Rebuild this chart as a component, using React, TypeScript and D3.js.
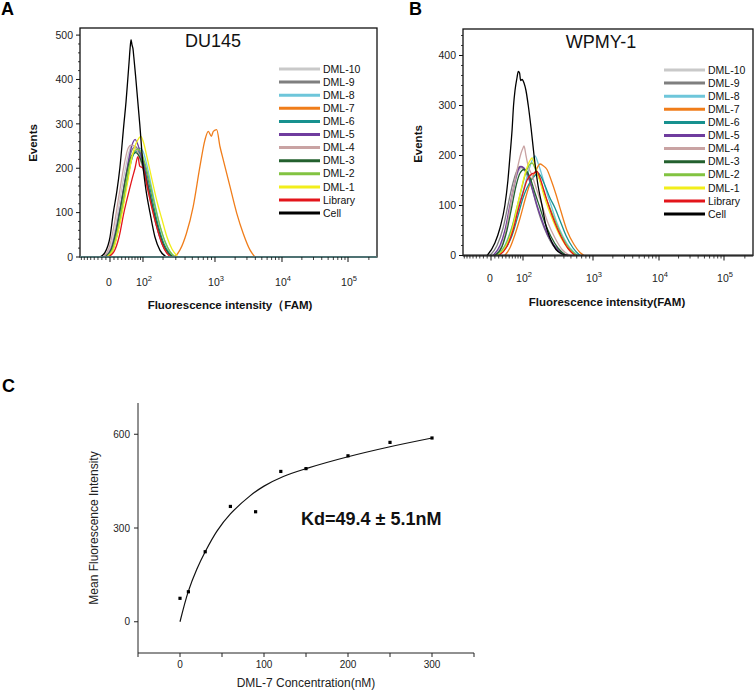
import React from "react";
import * as d3 from "d3";

type Pt = [number, number];

// ---------- legend / series ----------
const seriesNames = ["DML-10", "DML-9", "DML-8", "DML-7", "DML-6", "DML-5", "DML-4", "DML-3", "DML-2", "DML-1", "Library", "Cell"];
const seriesColors = ["#c9c9c9", "#7f7f7f", "#6ec6da", "#f07d1a", "#17918f", "#6f3c9e", "#c9a3a3", "#23602e", "#82c341", "#f2ee1b", "#e3151b", "#000000"];

// ---------- axis ticks (flow histograms) ----------
const xMajorTicks = [0, 100, 1000, 10000, 100000];
const xMajorExps = ["", "2", "3", "4", "5"];
const xMinorTicks = [-80, -70, -60, -50, -40, -30, -20, -10, 10, 20, 30, 40, 50, 60, 70, 80, 90,
  200, 300, 400, 500, 600, 700, 800, 900, 2000, 3000, 4000, 5000, 6000, 7000, 8000, 9000,
  20000, 30000, 40000, 50000, 60000, 70000, 80000, 90000, 200000];
const xBreaks = [-85, 0, 100, 1000, 10000, 100000, 262144];

// ---------- DU145 histograms: [FAM intensity, events] ----------
const du145Dml10: Pt[] = [[-15, 0], [0, 18], [12.5, 62], [25, 128], [39, 195], [51, 238], [60, 252], [70, 250], [80, 240], [95, 215], [116, 165], [138, 115], [164, 68], [193, 32], [227, 10], [266, 0]];
const du145Dml9: Pt[] = [[-12.5, 0], [2.5, 15], [15, 58], [28, 120], [42, 185], [54, 228], [63, 245], [73, 248], [84, 238], [100, 210], [120, 160], [143, 108], [170, 62], [200, 28], [235, 8], [275, 0]];
const du145Dml8: Pt[] = [[-10, 0], [5, 15], [17.6, 55], [31, 110], [45, 170], [57, 215], [66, 235], [77, 240], [87, 245], [100, 238], [112, 215], [129, 175], [153, 120], [181, 70], [213, 35], [250, 12], [302, 0]];
const du145Dml7: Pt[] = [[-12.5, 0], [275, 0], [342, 16], [417, 53], [513, 113], [632, 204], [737, 264], [815, 283], [895, 272], [950, 283], [1060, 287], [1187, 249], [1330, 219], [1674, 159], [2110, 99], [2640, 53], [3329, 16], [3953, 0]];
const du145Dml6: Pt[] = [[-10, 0], [5, 12], [17.6, 48], [31, 105], [45, 170], [57, 215], [66, 232], [77, 238], [87, 235], [104, 212], [125, 165], [148, 112], [175, 65], [206, 30], [242, 10], [283, 0]];
const du145Dml5: Pt[] = [[-12.5, 0], [2.5, 18], [15, 60], [28, 120], [42, 185], [54, 235], [63, 258], [70, 265], [77, 258], [87, 240], [104, 205], [125, 150], [148, 95], [175, 50], [206, 20], [250, 4], [283, 0]];
const du145Dml4: Pt[] = [[-17.6, 0], [-2.5, 20], [10, 70], [23, 140], [36, 205], [48, 245], [57, 252], [66, 250], [77, 240], [91, 215], [112, 170], [134, 120], [158, 75], [187, 40], [220, 15], [258, 0]];
const du145Dml3: Pt[] = [[-12.5, 0], [2.5, 15], [15, 55], [28, 115], [42, 180], [54, 220], [63, 232], [73, 235], [84, 228], [100, 205], [120, 160], [143, 110], [170, 65], [200, 30], [235, 10], [275, 0]];
const du145Dml2: Pt[] = [[-10, 0], [5, 15], [17.6, 55], [31, 115], [45, 180], [57, 222], [70, 240], [80, 243], [91, 238], [108, 210], [129, 165], [153, 115], [181, 70], [213, 35], [250, 12], [292, 0]];
const du145Dml1: Pt[] = [[-7.5, 0], [7.5, 15], [20, 55], [33.5, 110], [48, 175], [60, 225], [73, 255], [84, 268], [91, 272], [100, 262], [116, 225], [138, 175], [164, 125], [193, 85], [227, 45], [266, 18], [321, 0]];
const du145Library: Pt[] = [[-5, 0], [10, 12], [23, 45], [36, 100], [48, 140], [60, 175], [70, 200], [80, 226], [87, 205], [100, 200], [116, 160], [138, 110], [164, 65], [193, 30], [227, 8], [258, 0]];
const du145Cell: Pt[] = [[-25, 0], [-12.5, 10], [0, 45], [8.3, 100], [17.6, 150], [25, 200], [36, 300], [42, 350], [47, 400], [51, 440], [54, 470], [57, 490], [60, 478], [63, 470], [66, 450], [73, 400], [87, 300], [101, 200], [112, 150], [129, 100], [153, 45], [181, 15], [225, 0]];

// ---------- WPMY-1 histograms ----------
const wpmyDml10: Pt[] = [[7.7, 0], [26, 20], [40, 55], [56, 105], [69, 145], [84, 170], [96, 175], [108, 170], [125, 155], [145, 130], [172, 95], [203, 65], [248, 35], [311, 14], [401, 0]];
const wpmyDml9: Pt[] = [[-2.6, 0], [15.6, 20], [32, 55], [46, 100], [62, 145], [76, 170], [88, 178], [100, 175], [116, 162], [135, 140], [160, 105], [190, 72], [232, 42], [282, 20], [353, 5], [427, 0]];
const wpmyDml8: Pt[] = [[15.6, 0], [37, 20], [52, 45], [69, 75], [88, 110], [104, 135], [121, 165], [140, 190], [155, 199], [172, 185], [197, 160], [232, 125], [273, 95], [321, 65], [389, 38], [485, 15], [625, 0]];
const wpmyDml7: Pt[] = [[37, 0], [52, 15], [69, 42], [88, 75], [112, 118], [135, 150], [160, 170], [184, 183], [203, 180], [232, 172], [264, 152], [311, 122], [365, 88], [441, 50], [551, 22], [665, 6], [754, 0]];
const wpmyDml6: Pt[] = [[18, 0], [40, 15], [59, 40], [80, 80], [100, 115], [116, 135], [135, 150], [155, 160], [172, 165], [190, 158], [217, 140], [256, 115], [301, 95], [353, 70], [427, 40], [534, 15], [665, 0]];
const wpmyDml5: Pt[] = [[5.2, 0], [23.5, 20], [37, 50], [52, 100], [66, 140], [80, 170], [92, 178], [104, 175], [121, 160], [140, 135], [166, 100], [197, 70], [240, 40], [301, 18], [389, 4], [456, 0]];
const wpmyDml4: Pt[] = [[10, 0], [29, 18], [46, 70], [59, 120], [69, 150], [80, 180], [92, 205], [100, 215], [104, 219], [112, 200], [121, 180], [140, 160], [166, 130], [197, 100], [240, 65], [301, 35], [377, 12], [485, 0]];
const wpmyDml3: Pt[] = [[10, 0], [29, 18], [43, 50], [59, 100], [73, 140], [88, 165], [104, 172], [116, 168], [135, 150], [155, 125], [184, 95], [217, 65], [264, 38], [331, 15], [427, 0]];
const wpmyDml2: Pt[] = [[15.6, 0], [37, 18], [56, 50], [73, 90], [92, 130], [108, 160], [125, 180], [140, 185], [160, 170], [184, 150], [217, 120], [256, 95], [311, 65], [377, 38], [470, 15], [605, 0]];
const wpmyDml1: Pt[] = [[18, 0], [40, 18], [59, 50], [76, 95], [96, 140], [112, 170], [130, 190], [140, 195], [155, 180], [178, 155], [210, 120], [248, 90], [301, 60], [365, 35], [456, 14], [568, 0]];
const wpmyLibrary: Pt[] = [[21, 0], [43, 18], [62, 50], [80, 90], [100, 125], [116, 150], [135, 162], [150, 165], [166, 168], [184, 155], [210, 130], [248, 98], [301, 65], [365, 38], [456, 14], [568, 0]];
const wpmyCell: Pt[] = [[-10, 0], [10, 25], [23.5, 55], [37, 100], [46, 150], [52.5, 200], [59, 250], [64, 300], [69, 330], [76, 355], [81, 368], [86, 365], [90, 350], [96, 352], [104, 345], [112, 330], [122, 300], [135, 255], [150, 200], [172, 140], [197, 100], [224, 60], [256, 35], [311, 12], [377, 3], [456, 0]];

// ---------- panel C: binding ----------
const concentrations = [0, 10, 30, 60, 90, 120, 150, 200, 250, 300];
const meanFluorescence = [75, 96, 224, 369, 352, 481, 490, 531, 574, 588];
const fitConcentrations = [0, 10, 20, 30, 44, 60, 83, 100, 123, 150, 200, 250, 300];
const fitFluorescence = [0, 98, 168, 224, 290, 345, 402, 434, 465, 490, 528, 560, 588];
const cXTicks = [0, 100, 200, 300];
const cXMinor = [-50, 50, 150, 250, 350];
const cYTicks = [0, 300, 600];

const du145Series = [du145Dml10, du145Dml9, du145Dml8, du145Dml7, du145Dml6, du145Dml5, du145Dml4, du145Dml3, du145Dml2, du145Dml1, du145Library, du145Cell];
const wpmySeries = [wpmyDml10, wpmyDml9, wpmyDml8, wpmyDml7, wpmyDml6, wpmyDml5, wpmyDml4, wpmyDml3, wpmyDml2, wpmyDml1, wpmyLibrary, wpmyCell];

const FONT = "'Liberation Sans', Arial, Helvetica, sans-serif";
const COF = 75;
const T = (v: number) => Math.asinh(v / COF);

type PanelProps = {
  left: number; right: number; top: number; bottom: number;
  fr: number[]; yMax: number; yTickMax: number;
  title: string; titleX: number; titleY: number;
  data: Pt[][];
  legX: number; legY: number;
  xTitle: string; xTitleX: number; xTitleY: number;
  tickLabelY: number;
  yTitleX: number; yTitleY: number;
  letter: string; letterX: number;
  baseColor: string;
};

function HistPanel(p: PanelProps) {
  const x = d3.scaleLinear().domain(xBreaks.map(T)).range(p.fr.map((f) => p.left + f * (p.right - p.left)));
  const y = d3.scaleLinear().domain([0, p.yMax]).range([p.bottom, p.top]);
  const line = d3.line<Pt>().x((d) => x(T(d[0]))).y((d) => y(d[1])).curve(d3.curveMonotoneX);
  const yMajor = d3.range(0, p.yTickMax + 1, 100);
  const yMinor = d3.range(0, p.yMax, 20).filter((v) => v % 100 !== 0);
  return (
    <g fontFamily={FONT}>
      <text x={p.letterX} y={15} fontSize={18} fontWeight="bold">{p.letter}</text>
      <g fill="none" strokeWidth={1.3} strokeLinejoin="round">
        {p.data.map((d, i) => (
          <path key={i} d={line(d) || ""} stroke={seriesColors[i]} />
        ))}
      </g>
      <rect x={p.left} y={p.top} width={p.right - p.left} height={p.bottom - p.top} fill="none" stroke="#111" strokeWidth={1.3} />
      <line x1={p.left} x2={p.right} y1={p.bottom} y2={p.bottom} stroke={p.baseColor} strokeWidth={2} />
      {yMajor.map((v) => (
        <g key={"ym" + v}>
          <line x1={p.left - 4} x2={p.left} y1={y(v)} y2={y(v)} stroke="#111" strokeWidth={1} />
          <text x={p.left - 7} y={y(v)} dy="0.35em" fontSize={10.5} textAnchor="end" fill="#222">{v}</text>
        </g>
      ))}
      {yMinor.map((v) => (
        <line key={"yn" + v} x1={p.left - 2} x2={p.left} y1={y(v)} y2={y(v)} stroke="#111" strokeWidth={0.8} />
      ))}
      {xMajorTicks.map((v, i) => (
        <g key={"xm" + v}>
          <line x1={x(T(v))} x2={x(T(v))} y1={p.bottom} y2={p.bottom + 5} stroke="#111" strokeWidth={1} />
          {xMajorExps[i] === "" ? (
            <text x={x(T(v)) - 1} y={p.tickLabelY} fontSize={10.5} textAnchor="middle" fill="#222">0</text>
          ) : (
            <text x={x(T(v)) + 1} y={p.tickLabelY} fontSize={10.5} textAnchor="middle" fill="#222">
              10<tspan fontSize={7.5} dy={-5}>{xMajorExps[i]}</tspan>
            </text>
          )}
        </g>
      ))}
      {xMinorTicks.map((v) => (
        <line key={"xn" + v} x1={x(T(v))} x2={x(T(v))} y1={p.bottom} y2={p.bottom + 3} stroke="#111" strokeWidth={0.8} />
      ))}
      <text x={p.titleX} y={p.titleY} fontSize={18} textAnchor="middle" fill="#111">{p.title}</text>
      <text x={p.xTitleX} y={p.xTitleY} fontSize={11.5} fontWeight="bold" textAnchor="middle" fill="#111">{p.xTitle}</text>
      <text transform={`translate(${p.yTitleX},${p.yTitleY}) rotate(-90)`} fontSize={11.5} fontWeight="bold" textAnchor="middle" dy="0.35em" fill="#111">Events</text>
      {seriesNames.map((n, i) => (
        <g key={n} transform={`translate(${p.legX},${p.legY + i * 13.1})`}>
          <line x1={0} x2={41} y1={0} y2={0} stroke={seriesColors[i]} strokeWidth={3} />
          <text x={44} y={0} dy="0.35em" fontSize={10.5} fill="#111">{n}</text>
        </g>
      ))}
    </g>
  );
}

function BindingPanel() {
  const x = d3.scaleLinear().domain([-50, 350]).range([138, 474]);
  const y = d3.scaleLinear().domain([-100, 700]).range([653, 403]);
  const fit = fitConcentrations.map((c, i) => [c, fitFluorescence[i]] as Pt);
  const line = d3.line<Pt>().x((d) => x(d[0])).y((d) => y(d[1])).curve(d3.curveCatmullRom.alpha(0.5));
  return (
    <g fontFamily={FONT}>
      <text x={2} y={392} fontSize={18} fontWeight="bold">C</text>
      <line x1={x(-50)} x2={x(-50)} y1={y(700)} y2={y(-100)} stroke="#222" strokeWidth={1} />
      <line x1={x(-50)} x2={x(350)} y1={y(-100)} y2={y(-100)} stroke="#222" strokeWidth={1} />
      {cYTicks.map((v) => (
        <g key={"cy" + v}>
          <line x1={x(-50) - 4} x2={x(-50)} y1={y(v)} y2={y(v)} stroke="#222" />
          <text x={x(-50) - 8} y={y(v)} dy="0.35em" fontSize={10} textAnchor="end" fill="#222">{v}</text>
        </g>
      ))}
      {cXTicks.map((v) => (
        <g key={"cx" + v}>
          <line x1={x(v)} x2={x(v)} y1={y(-100)} y2={y(-100) + 4} stroke="#222" />
          <text x={x(v)} y={668} fontSize={10} textAnchor="middle" fill="#222">{v}</text>
        </g>
      ))}
      {cXMinor.map((v) => (
        <line key={"cxm" + v} x1={x(v)} x2={x(v)} y1={y(-100)} y2={y(-100) + 4} stroke="#222" />
      ))}
      <path d={line(fit) || ""} fill="none" stroke="#111" strokeWidth={1.2} />
      {concentrations.map((c, i) => (
        <rect key={"pt" + i} x={x(c) - 1.6} y={y(meanFluorescence[i]) - 1.6} width={3.2} height={3.2} fill="#000" />
      ))}
      <text x={301} y={525} fontSize={18} fontWeight="bold" fill="#111">Kd=49.4 ± 5.1nM</text>
      <text transform={`translate(94,528) rotate(-90)`} fontSize={12} textAnchor="middle" dy="0.35em" fill="#222">Mean Fluorescence Intensity</text>
      <text x={306} y={687} fontSize={12} textAnchor="middle" fill="#222">DML-7 Concentration(nM)</text>
    </g>
  );
}

export default function App() {
  return (
    <div style={{ position: "absolute", left: 0, top: 0, width: 755, height: 691, background: "#fff" }}>
      <svg width={755} height={691} viewBox="0 0 755 691" style={{ display: "block" }}>
        <rect width={755} height={691} fill="#fff" />
        <HistPanel left={80} right={377} top={28} bottom={257}
          fr={[0, 0.101, 0.2121, 0.4545, 0.6801, 0.9024, 1]}
          yMax={516} yTickMax={500}
          title="DU145" titleX={213} titleY={47}
          data={du145Series} legX={279} legY={69}
          xTitle="Fluorescence intensity（FAM)" xTitleX={230} xTitleY={309}
          tickLabelY={286} yTitleX={33} yTitleY={143}
          letter="A" letterX={1} baseColor="#4f7273" />
        <HistPanel left={463} right={753} top={29} bottom={255.5}
          fr={[0, 0.0966, 0.2069, 0.4483, 0.6759, 0.9, 1]}
          yMax={453} yTickMax={400}
          title="WPMY-1" titleX={601} titleY={48}
          data={wpmySeries} legX={664} legY={70}
          xTitle="Fluorescence intensity(FAM)" xTitleX={607} xTitleY={306}
          tickLabelY={282} yTitleX={418} yTitleY={144}
          letter="B" letterX={409} baseColor="#2b2b2b" />
        <BindingPanel />
      </svg>
    </div>
  );
}
